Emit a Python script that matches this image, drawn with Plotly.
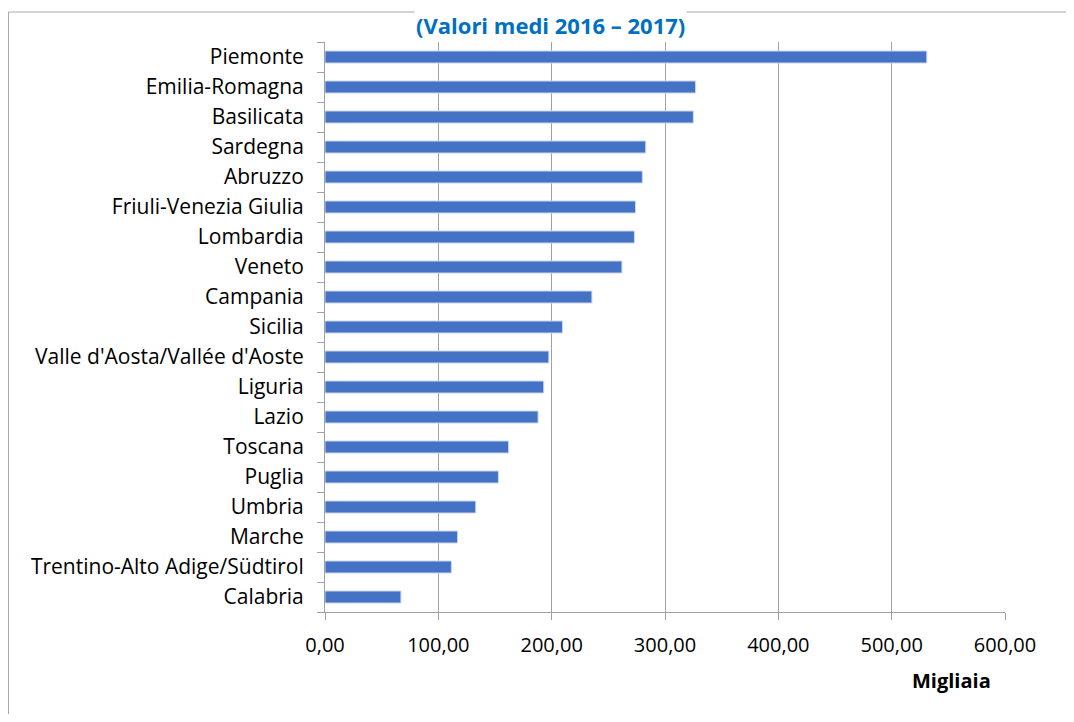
import plotly.graph_objects as go

# valori medi 2016-2017, migliaia
regioni = [
    "Piemonte", "Emilia-Romagna", "Basilicata", "Sardegna", "Abruzzo",
    "Friuli-Venezia Giulia", "Lombardia", "Veneto", "Campania", "Sicilia",
    "Valle d'Aosta/Vallée d'Aoste", "Liguria", "Lazio", "Toscana", "Puglia",
    "Umbria", "Marche", "Trentino-Alto Adige/Südtirol", "Calabria",
]
valori = [
    531.0, 327.0, 325.0, 283.0, 280.0,
    274.0, 273.0, 262.0, 235.5, 209.5,
    197.5, 193.0, 188.0, 162.0, 153.0,
    133.0, 117.0, 111.5, 67.0,
]
x_ticks = [0, 100, 200, 300, 400, 500, 600]

FONT = "Open Sans"
GRID = "#a0a0a0"

fig = go.Figure()
fig.add_trace(go.Bar(
    x=valori,
    y=regioni,
    orientation="h",
    width=0.4,
    marker=dict(color="#4472C4", line=dict(color="#c9d6ef", width=1)),
))

# the page body adds an 8px margin, so the figure is sized to fit inside it
fig.update_layout(
    width=1058,
    height=706,
    margin=dict(l=317, r=61, t=34, b=102),
    paper_bgcolor="white",
    plot_bgcolor="white",
    separators=",.",
    showlegend=False,
    font=dict(family=FONT, size=20, color="black"),
    xaxis=dict(
        range=[0, 600],
        tickvals=x_ticks,
        tickformat=".2f",
        showgrid=True,
        gridcolor=GRID,
        gridwidth=1,
        showline=True,
        linecolor=GRID,
        linewidth=1,
        ticks="outside",
        ticklen=7,
        tickcolor=GRID,
        ticklabelstandoff=8,
        zeroline=False,
    ),
    yaxis=dict(
        categoryorder="array",
        categoryarray=regioni[::-1],
        showline=True,
        linecolor=GRID,
        linewidth=1,
        ticks="outside",
        ticklen=7,
        tickcolor=GRID,
        tickson="boundaries",
        ticklabelstandoff=16,
        tickfont=dict(size=21),
        showgrid=False,
    ),
)

# cornice del grafico
fig.add_shape(
    type="rect", xref="paper", yref="paper",
    x0=-0.4655, x1=1.2, y0=-0.25, y1=1.0526,
    line=dict(color="#a6a6a6", width=1), fillcolor="rgba(0,0,0,0)",
    layer="below",
)

# titolo
fig.add_annotation(
    text="<b>(Valori medi 2016 – 2017)</b>",
    xref="paper", yref="paper", x=0.332, y=1.0596,
    xanchor="center", yanchor="top", showarrow=False,
    bgcolor="white",
    font=dict(family=FONT, size=22, color="#0070C0"),
)

fig.add_annotation(
    text="<b>Migliaia</b>",
    xref="paper", yref="paper", x=0.9206, y=-0.121,
    xanchor="center", yanchor="middle", showarrow=False,
    font=dict(family=FONT, size=20, color="black"),
)

fig.write_html("out.html")
